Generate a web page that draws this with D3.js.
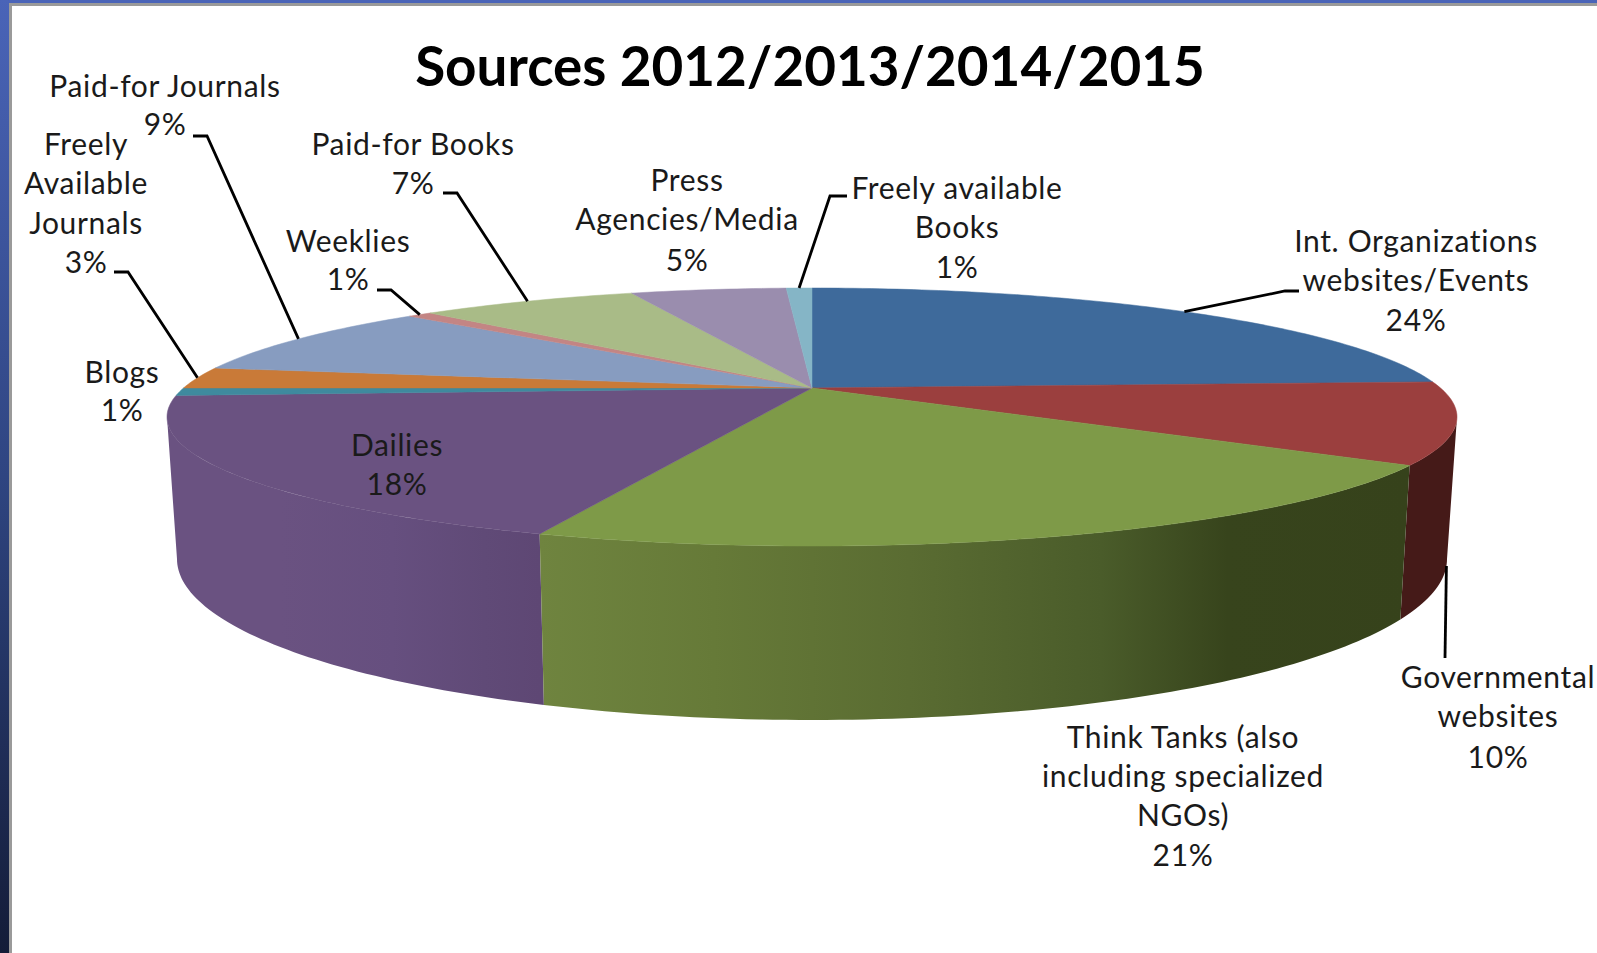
<!DOCTYPE html>
<html>
<head>
<meta charset="utf-8">
<script src="https://cdn.jsdelivr.net/npm/d3@7"></script>
<style>
  html, body { margin: 0; padding: 0; background: #fff; }
  svg { display: block; }
  text { font-family: Lato, "Open Sans", sans-serif; fill: #1a1a1a; text-anchor: middle; }
  .labels text { letter-spacing: 0.65px; }
  .title { font-weight: 700; fill: #000; }
</style>
</head>
<body>
<script>
// slices, clockwise from 12 o'clock
const categories = ['Int. Organizations websites/Events', 'Governmental websites',
  'Think Tanks (also including specialized NGOs)', 'Dailies', 'Blogs',
  'Freely Available Journals', 'Paid-for Journals', 'Weeklies', 'Paid-for Books',
  'Press Agencies/Media', 'Freely available Books'];
const values = [24.2, 10.15, 21.2, 18.5, 0.95, 2.7, 9.1, 0.75, 6.8, 4.85, 0.8];
const percentLabels = ['24%', '10%', '21%', '18%', '1%', '3%', '9%', '1%', '7%', '5%', '1%'];
const colors = ['#3e6a9b', '#9b3f3e', '#7e9a48', '#6a5281', '#3f8a9e', '#c97a38',
  '#879cc0', '#c38584', '#a9bb87', '#9a8dae', '#85b5c6'];

// how each category label wraps, then where it sits (centre x, one baseline per line)
const labelLines = [['Int. Organizations', 'websites/Events'], ['Governmental', 'websites'],
  ['Think Tanks (also', 'including specialized', 'NGOs)'], ['Dailies'], ['Blogs'],
  ['Freely', 'Available', 'Journals'], ['Paid-for Journals'], ['Weeklies'], ['Paid-for Books'],
  ['Press', 'Agencies/Media'], ['Freely available', 'Books']];
const labelX = [1416, 1498, 1183, 397, 122, 86, 165, 348, 413, 687, 957];
const labelY = [[252, 291, 331], [688, 727, 768], [748, 787, 826, 866], [456, 495], [383, 421],
  [155, 194, 234, 273], [97, 135], [252, 290], [155, 194], [191, 230, 271], [199, 238, 278]];

// leader lines: label end, elbow. rim end comes from the slice itself
const leaderPoints = [[[1299, 291], [1285, 291]], [[1445, 658]], null, null, null,
  [[114, 272], [128, 272]], [[193, 136], [207, 136]], [[377, 290], [391, 290]],
  [[443, 193], [457, 193]], null, [[847, 196], [830, 196]]];

const width = 1597;
const height = 953;
const fontSize = 30;

const svg = d3.select('body').append('svg')
  .attr('width', width)
  .attr('height', height);
const defs = svg.append('defs');

// slide edge showing at the top and left
const edge = defs.append('linearGradient')
  .attr('id', 'edge').attr('x1', 0).attr('x2', 0).attr('y1', 0).attr('y2', 1);
edge.append('stop').attr('offset', 0).attr('stop-color', '#4a64b8');
edge.append('stop').attr('offset', 0.5).attr('stop-color', '#2f4581');
edge.append('stop').attr('offset', 1).attr('stop-color', '#141c38');

svg.append('rect').attr('width', width).attr('height', 3).attr('fill', '#4a64b8');
svg.append('rect').attr('x', 9).attr('y', 3).attr('width', width).attr('height', 3).attr('fill', '#9a9a9a');
svg.append('rect').attr('width', 9).attr('height', height).attr('fill', 'url(#edge)');
svg.append('rect').attr('x', 9).attr('y', 3).attr('width', 3).attr('height', height).attr('fill', '#9a9a9a');

// perspective: the circle maps onto itself with its centre moved back by tilt
const tilt = -0.225;
const topRim = { cx: 812, cy: 417, rx: 645, ry: 129 };
const bottomRim = { cx: 812, cy: 559, rx: 635, ry: 161 };

function project(angle, rim) {
  const u = Math.sin(angle);
  const v = -Math.cos(angle);
  const w = 1 + tilt * v;
  return [rim.cx + rim.rx * u * Math.sqrt(1 - tilt * tilt) / w,
    rim.cy + rim.ry * (v + tilt) / w];
}
const apex = [topRim.cx, topRim.cy + topRim.ry * tilt];

const arcs = d3.pie().sort(null).value(d => d)(values);
const midAngle = d => (d.startAngle + d.endAngle) / 2;

function rimPoints(start, end, rim) {
  const n = Math.max(2, Math.ceil((end - start) * 60));
  return d3.range(n + 1).map(i => project(start + (end - start) * i / n, rim));
}

const line = d3.line();

function wallGradient(id, x1, x2, stops) {
  const g = defs.append('linearGradient')
    .attr('id', id).attr('gradientUnits', 'userSpaceOnUse')
    .attr('x1', x1).attr('x2', x2).attr('y1', 0).attr('y2', 0);
  stops.forEach(s => g.append('stop').attr('offset', s[0]).attr('stop-color', s[1]));
  return `url(#${id})`;
}
const wallGreen = wallGradient('wall-green', 540, 1410, [[0, '#6f843f'], [0.2, '#667a38'],
  [0.425, '#5a6c32'], [0.645, '#4a5c2a'], [0.79, '#37441c'], [1, '#36421b']]);
const wallPurple = wallGradient('wall-purple', 170, 540, [[0, '#6a5281'], [0.3, '#6a5281'],
  [0.6, '#664f7f'], [0.85, '#604a77'], [1, '#5e4774']]);

// only the slices facing the viewer show a wall; paint the nearest one last.
// the walls stop where the rim turns away, at the widest point of the ellipse
const wallFills = { 1: '#451a18', 3: wallPurple, 2: wallGreen };
const frontWalls = [1, 3, 2];
const wallStart = Math.acos(tilt);
const wallEnd = 2 * Math.PI - wallStart;

svg.append('g').attr('class', 'walls')
  .selectAll('path')
  .data(frontWalls)
  .join('path')
  .attr('d', i => {
    const a = Math.max(arcs[i].startAngle, wallStart);
    const b = Math.min(arcs[i].endAngle, wallEnd);
    return line(rimPoints(a, b, topRim).concat(rimPoints(a, b, bottomRim).reverse())) + 'Z';
  })
  .attr('fill', i => wallFills[i]);

svg.append('g').attr('class', 'slices')
  .selectAll('path')
  .data(arcs)
  .join('path')
  .attr('d', d => line([apex].concat(rimPoints(d.startAngle, d.endAngle, topRim))) + 'Z')
  .attr('fill', (d, i) => colors[i])
  .attr('stroke', (d, i) => colors[i])
  .attr('stroke-width', 0.5);

// leader lines
svg.append('g').attr('class', 'leaders')
  .selectAll('path')
  .data(arcs.filter((d, i) => leaderPoints[i]))
  .join('path')
  .attr('d', d => {
    const rim = d.index === 1 ? bottomRim : topRim;
    return line(leaderPoints[d.index].concat([project(midAngle(d), rim)]));
  })
  .attr('fill', 'none')
  .attr('stroke', '#000')
  .attr('stroke-width', 2.8);

// labels
const labels = svg.append('g').attr('class', 'labels')
  .selectAll('text')
  .data(categories)
  .join('text')
  .attr('font-size', fontSize);

labels.selectAll('tspan')
  .data((d, i) => labelLines[i].concat(percentLabels[i]).map((t, j) => ({ t, x: labelX[i], y: labelY[i][j] })))
  .join('tspan')
  .attr('x', d => d.x)
  .attr('y', d => d.y)
  .text(d => d.t);

svg.append('text')
  .attr('class', 'title')
  .attr('x', 810)
  .attr('y', 86)
  .attr('font-size', 54.8)
  .text('Sources 2012/2013/2014/2015');
</script>
</body>
</html>
